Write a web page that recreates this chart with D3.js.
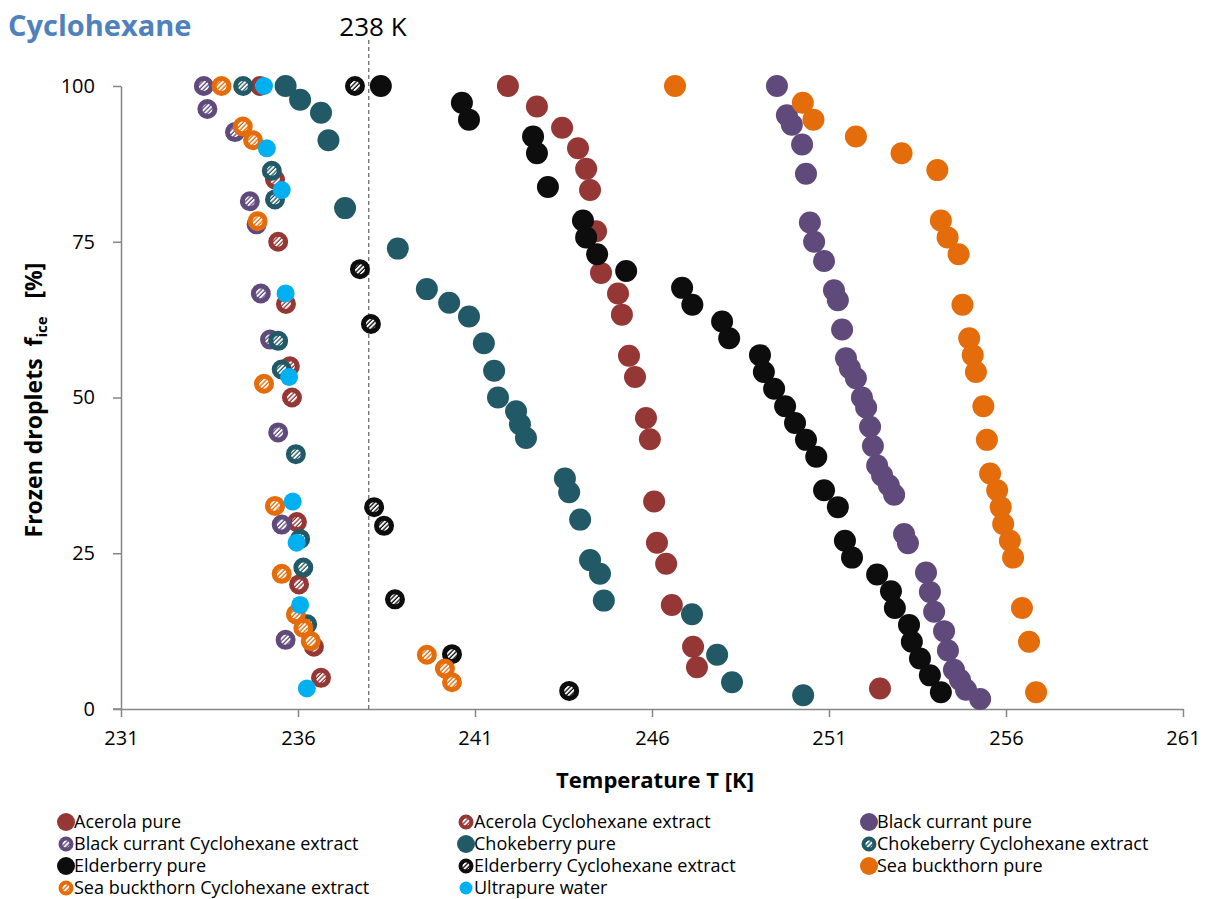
<!DOCTYPE html>
<html>
<head>
  <meta charset="utf-8">
  <style>
    body { margin: 0; background: #fff; }
    text { font-family: "Open Sans", sans-serif; }
  </style>
</head>
<body>
<script src="https://d3js.org/d3.v7.min.js"></script>
<script>

// series names, colours and marker type (pure = filled, extract = hatched)
var seriesNames = ["Acerola pure", "Acerola Cyclohexane extract", "Black currant pure",
                   "Black currant Cyclohexane extract", "Chokeberry pure", "Chokeberry Cyclohexane extract",
                   "Elderberry pure", "Elderberry Cyclohexane extract", "Sea buckthorn pure",
                   "Sea buckthorn Cyclohexane extract", "Ultrapure water"];
var seriesColors = ["#953735", "#953735", "#604a7b", "#604a7b", "#215967", "#215967",
                    "#0d0d0d", "#0d0d0d", "#e46c0a", "#e46c0a", "#00b0f0"];
var seriesKinds = ["pure", "ext", "pure", "ext", "pure", "ext", "pure", "ext", "pure", "ext", "water"];

var xTicks = [231, 236, 241, 246, 251, 256, 261];
var yTicks = [0, 25, 50, 75, 100];

// temperature [K] and frozen fraction [%] for each series
var acerolaT = [241.93, 242.75, 243.46, 243.91, 244.14, 244.25, 244.42, 244.56, 245.04, 245.15, 245.35, 245.52,
                245.83, 245.94, 246.06, 246.14, 246.40, 246.56, 247.16, 247.27, 252.44];
var acerolaF = [100, 96.7, 93.3, 90, 86.7, 83.3, 76.7, 70, 66.7, 63.3, 56.7, 53.3,
                46.7, 43.3, 33.3, 26.7, 23.3, 16.7, 10, 6.7, 3.3];

var acerolaExtT = [234.93, 235.35, 235.44, 235.66, 235.77, 235.83, 235.97, 236.03, 236.45, 236.65];
var acerolaExtF = [100, 85, 75, 65, 55, 50, 30, 20, 10, 5];

var currantT = [249.53, 249.81, 249.95, 250.24, 250.35, 250.46, 250.58, 250.86, 251.14, 251.25, 251.37, 251.48,
                251.59, 251.76, 251.93, 252.05, 252.16, 252.24, 252.36, 252.50, 252.69, 252.84, 253.12, 253.23,
                253.74, 253.85, 253.97, 254.25, 254.36, 254.53, 254.70, 254.87, 255.27];
var currantF = [100, 95.3, 93.8, 90.6, 85.9, 78.1, 75, 71.9, 67.2, 65.6, 60.9, 56.3,
                54.7, 53.1, 50, 48.4, 45.3, 42.2, 39.1, 37.5, 35.9, 34.4, 28.1, 26.6,
                21.9, 18.8, 15.6, 12.5, 9.4, 6.3, 4.7, 3.1, 1.6];

var currantExtT = [233.34, 233.44, 234.22, 234.64, 234.83, 234.95, 235.21, 235.44, 235.54, 235.65];
var currantExtF = [100, 96.3, 92.6, 81.5, 77.8, 66.7, 59.3, 44.4, 29.6, 11.1];

var chokeT = [235.65, 236.06, 236.65, 236.86, 237.33, 238.82, 239.64, 240.27, 240.83, 241.25, 241.54, 241.65,
              242.16, 242.27, 242.44, 243.54, 243.66, 243.97, 244.25, 244.53, 244.64, 247.13, 247.84, 248.26, 250.27];
var chokeF = [100, 97.8, 95.7, 91.3, 80.4, 73.9, 67.4, 65.2, 63.0, 58.7, 54.3, 50.0,
              47.8, 45.7, 43.5, 37.0, 34.8, 30.4, 23.9, 21.7, 17.4, 15.2, 8.7, 4.3, 2.2];

var chokeExtT = [234.45, 235.26, 235.35, 235.44, 235.54, 235.94, 236.06, 236.15, 236.26];
var chokeExtF = [100, 86.4, 81.8, 59.1, 54.5, 40.9, 27.3, 22.7, 13.6];

var elderT = [238.34, 240.63, 240.83, 242.64, 242.75, 243.06, 244.05, 244.14, 244.45, 245.27, 246.85, 247.14,
              247.98, 248.18, 249.05, 249.16, 249.45, 249.76, 250.04, 250.35, 250.64, 250.86, 251.25, 251.45,
              251.65, 252.36, 252.75, 252.86, 253.26, 253.34, 253.57, 253.85, 254.16];
var elderF = [100, 97.3, 94.6, 91.9, 89.2, 83.8, 78.4, 75.7, 73.0, 70.3, 67.6, 64.9,
              62.2, 59.5, 56.8, 54.1, 51.4, 48.6, 45.9, 43.2, 40.5, 35.1, 32.4, 27.0,
              24.3, 21.6, 18.9, 16.2, 13.5, 10.8, 8.1, 5.4, 2.7];

var elderExtT = [237.61, 237.75, 238.06, 238.15, 238.43, 238.74, 240.35, 243.66];
var elderExtF = [100, 70.6, 61.8, 32.4, 29.4, 17.6, 8.8, 2.9];

var seaT = [246.65, 250.26, 250.56, 251.76, 253.05, 254.06, 254.16, 254.35, 254.66, 254.77, 254.96, 255.06,
            255.15, 255.36, 255.46, 255.55, 255.75, 255.85, 255.92, 256.11, 256.20, 256.45, 256.65, 256.85];
var seaF = [100, 97.3, 94.6, 91.9, 89.2, 86.5, 78.4, 75.7, 73.0, 64.9, 59.5, 56.8,
            54.1, 48.6, 43.2, 37.8, 35.1, 32.4, 29.7, 27.0, 24.3, 16.2, 10.8, 2.7];

var seaExtT = [233.84, 234.44, 234.73, 234.86, 235.04, 235.35, 235.54, 235.94, 236.15, 236.36, 239.64, 240.15, 240.35];
var seaExtF = [100, 93.5, 91.3, 78.3, 52.2, 32.6, 21.7, 15.2, 13.0, 10.9, 8.7, 6.5, 4.3];

var waterT = [235.04, 235.12, 235.54, 235.65, 235.75, 235.85, 235.96, 236.06, 236.25];
var waterF = [100, 90, 83.3, 66.7, 53.3, 33.3, 26.7, 16.7, 3.3];

var seriesT = [acerolaT, acerolaExtT, currantT, currantExtT, chokeT, chokeExtT, elderT, elderExtT, seaT, seaExtT, waterT];
var seriesF = [acerolaF, acerolaExtF, currantF, currantExtF, chokeF, chokeExtF, elderF, elderExtF, seaF, seaExtF, waterF];

var refLine = 238;

var svg = d3.select("body").append("svg")
            .attr("width", 1212)
            .attr("height", 899);

var x = d3.scaleLinear().domain([231, 261]).range([121, 1183]);
var y = d3.scaleLinear().domain([0, 100]).range([709, 86]);

// hatch patterns for the extract markers
var defs = svg.append("defs");
seriesColors.forEach(function(c, i) {
  if (seriesKinds[i] !== "ext") return;
  var p = defs.append("pattern")
              .attr("id", "hatch" + i)
              .attr("patternUnits", "userSpaceOnUse")
              .attr("width", 3.2)
              .attr("height", 3.2)
              .attr("patternTransform", "rotate(45)");
  p.append("rect").attr("width", 3.2).attr("height", 3.2).attr("fill", c);
  p.append("rect").attr("width", 1.9).attr("height", 3.2).attr("fill", "#fff");
});

// axes
var xAxis = svg.append("g")
               .attr("transform", "translate(0,709)")
               .call(d3.axisBottom(x).tickValues(xTicks).tickSize(8).tickSizeOuter(0).tickPadding(10));
var yAxis = svg.append("g")
               .attr("transform", "translate(121,0)")
               .call(d3.axisLeft(y).tickValues(yTicks).tickSize(8).tickSizeOuter(0).tickPadding(18));

[xAxis, yAxis].forEach(function(a) {
  a.select(".domain").attr("stroke", "#868686").attr("stroke-width", 1.5);
  a.selectAll(".tick line").attr("stroke", "#868686").attr("stroke-width", 1.5);
  a.selectAll(".tick text").attr("fill", "#000").style("font-size", "20px")
   .style("font-family", "'Open Sans', sans-serif");
});
xAxis.selectAll(".tick text").attr("dy", "0.9em");
// x axis line continues a little left of the y axis
svg.append("line").attr("x1", 113).attr("x2", 121).attr("y1", 709).attr("y2", 709)
   .attr("stroke", "#868686").attr("stroke-width", 1.5);

// 238 K reference line
svg.append("line")
   .attr("x1", x(refLine)).attr("x2", x(refLine))
   .attr("y1", 40).attr("y2", 709)
   .attr("stroke", "#404040")
   .attr("stroke-width", 1)
   .attr("stroke-dasharray", "4,3");

// markers, drawn series by series like the original
function drawMarker(sel, i, big) {
  var kind = seriesKinds[i];
  if (kind === "pure") {
    sel.attr("r", big ? 11 : 9).attr("fill", seriesColors[i]);
  } else if (kind === "ext") {
    sel.attr("r", big ? 7.5 : 5.5)
       .attr("fill", "url(#hatch" + i + ")")
       .attr("stroke", seriesColors[i])
       .attr("stroke-width", big ? 5 : 4);
  } else {
    sel.attr("r", big ? 9 : 6.5).attr("fill", seriesColors[i]);
  }
}

seriesT.forEach(function(ts, i) {
  var pts = ts.map(function(t, j) { return { t: t, f: seriesF[i][j] }; });
  svg.append("g").selectAll("circle")
     .data(pts)
     .enter().append("circle")
     .attr("cx", function(d) { return x(d.t); })
     .attr("cy", function(d) { return y(d.f); })
     .call(drawMarker, i, true);
});

// titles
svg.append("text")
   .attr("x", 8).attr("y", 36)
   .attr("fill", "#4f81bd")
   .style("font-size", "29px").style("font-weight", "bold")
   .text("Cyclohexane");

svg.append("text")
   .attr("x", 373).attr("y", 36)
   .attr("text-anchor", "middle")
   .style("font-size", "26px")
   .text(refLine + " K");

svg.append("text")
   .attr("x", 655).attr("y", 788)
   .attr("text-anchor", "middle")
   .style("font-size", "22px").style("font-weight", "bold")
   .text("Temperature T [K]");

var yTitle = svg.append("text")
   .attr("transform", "translate(42,400) rotate(-90)")
   .attr("text-anchor", "middle")
   .attr("xml:space", "preserve")
   .style("font-size", "23px").style("font-weight", "bold");
yTitle.append("tspan").text("Frozen droplets  f");
yTitle.append("tspan").attr("dy", 5).style("font-size", "15px").text("ice");
yTitle.append("tspan").attr("dy", -5).text("   [%]");

// legend, three columns
var legendX = [66, 466, 869];
var legendY = [822, 844, 866, 888];
var legend = svg.append("g").selectAll("g")
   .data(seriesNames)
   .enter().append("g")
   .attr("transform", function(d, i) {
     return "translate(" + legendX[i % 3] + "," + legendY[Math.floor(i / 3)] + ")";
   });
legend.each(function(d, i) {
  var g = d3.select(this);
  g.append("circle").call(drawMarker, i, false);
  g.append("text").attr("x", 8).attr("y", 6).style("font-size", "18px").text(d);
});

</script>
</body>
</html>
